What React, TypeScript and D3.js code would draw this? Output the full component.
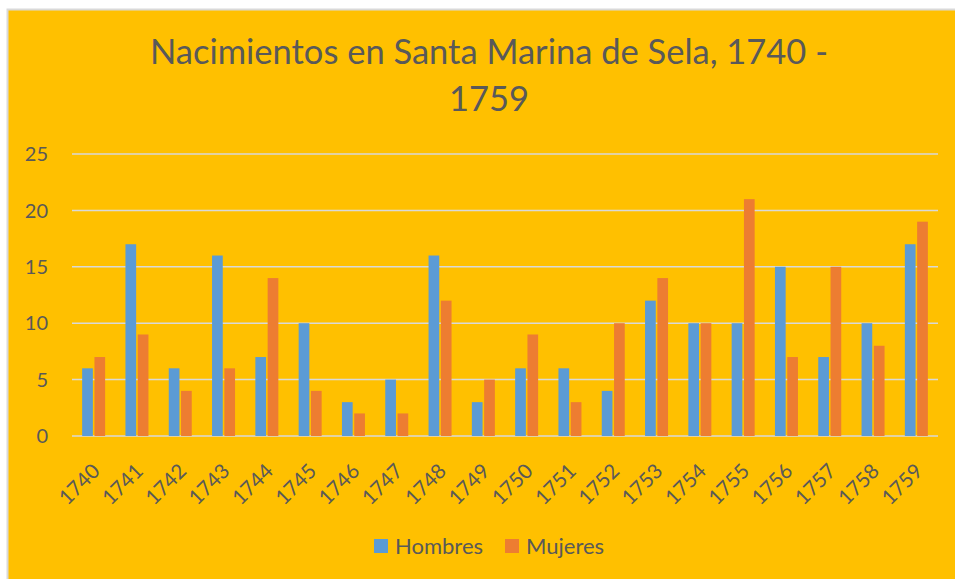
import React, { useEffect, useRef } from 'react'
import * as d3 from 'd3'

const years = ['1740', '1741', '1742', '1743', '1744', '1745', '1746', '1747', '1748', '1749',
  '1750', '1751', '1752', '1753', '1754', '1755', '1756', '1757', '1758', '1759']
const hombres = [6, 17, 6, 16, 7, 10, 3, 5, 16, 3, 6, 6, 4, 12, 10, 10, 15, 7, 10, 17]
const mujeres = [7, 9, 4, 6, 14, 4, 2, 2, 12, 5, 9, 3, 10, 14, 10, 21, 7, 15, 8, 19]
const seriesNames = ['Hombres', 'Mujeres']
const colors = ['#5B9BD5', '#ED7D31']
const yTicks = [0, 5, 10, 15, 20, 25]

const W = 955
const H = 579
const font = 'Lato, "Open Sans", sans-serif'
const textColor = '#595959'

export default function App() {
  const ref = useRef<SVGGElement>(null)

  useEffect(() => {
    const g = d3.select(ref.current)
    g.selectAll('*').remove()

    const left = 72, right = 938, top = 154, bottom = 436
    const x = d3.scaleBand<string>().domain(years).range([left, right])
    const bw = x.bandwidth()
    const x1 = d3.scaleBand<string>().domain(seriesNames)
      .range([bw / 2 - 11.5, bw / 2 + 11.5]).paddingInner(0.13)
    const y = d3.scaleLinear().domain([0, 25]).range([bottom, top])

    // gridlines
    g.selectAll('.grid')
      .data(yTicks)
      .join('line')
      .attr('x1', left).attr('x2', right)
      .attr('y1', d => y(d)).attr('y2', d => y(d))
      .attr('stroke', '#D9D9D9').attr('stroke-width', 1.5)

    g.selectAll('.ylab')
      .data(yTicks)
      .join('text')
      .attr('x', 48).attr('y', d => y(d))
      .attr('dy', '0.36em')
      .attr('text-anchor', 'end')
      .attr('font-size', 20)
      .attr('fill', textColor)
      .text(d => d)

    const table = years.map((yr, i) => ({ yr, vals: [hombres[i], mujeres[i]] }))
    const groups = g.selectAll('.grp')
      .data(table)
      .join('g')
      .attr('transform', d => `translate(${x(d.yr)},0)`)
    groups.selectAll('rect')
      .data(d => d.vals.map((v, k) => ({ v, k })))
      .join('rect')
      .attr('x', d => x1(seriesNames[d.k])!)
      .attr('width', x1.bandwidth())
      .attr('y', d => y(d.v))
      .attr('height', d => bottom - y(d.v))
      .attr('fill', d => colors[d.k])

    // x labels
    g.selectAll('.xlab')
      .data(years)
      .join('text')
      .attr('transform', d => `translate(${x(d)! + bw / 2 - 3},${bottom + 26}) rotate(-45)`)
      .attr('text-anchor', 'end')
      .attr('dy', '0.72em')
      .attr('font-size', 20.5)
      .attr('fill', textColor)
      .text(d => d)

    // legend
    const legX = [374, 505]
    seriesNames.forEach((s, i) => {
      g.append('rect').attr('x', legX[i]).attr('y', 539).attr('width', 14).attr('height', 14)
        .attr('fill', colors[i])
      g.append('text').attr('x', legX[i] + 21).attr('y', 554)
        .attr('font-size', 22).attr('fill', textColor).text(s)
    })
  }, [])

  return (
    <svg width={W} height={H} style={{ position: 'absolute', left: 0, top: 0 }} fontFamily={font}>
      <rect x={0} y={0} width={W} height={H} fill="#fff" />
      <rect x={7.5} y={9.5} width={W} height={H} fill="#FFC000" stroke="#D9D9D9" strokeWidth={2} />
      <text x={489} y={64} textAnchor="middle" fontSize={34.5} fill={textColor}>
        Nacimientos en Santa Marina de Sela, 1740 -
      </text>
      <text x={489} y={111} textAnchor="middle" fontSize={34.5} fill={textColor}>1759</text>
      <g ref={ref} />
    </svg>
  )
}
